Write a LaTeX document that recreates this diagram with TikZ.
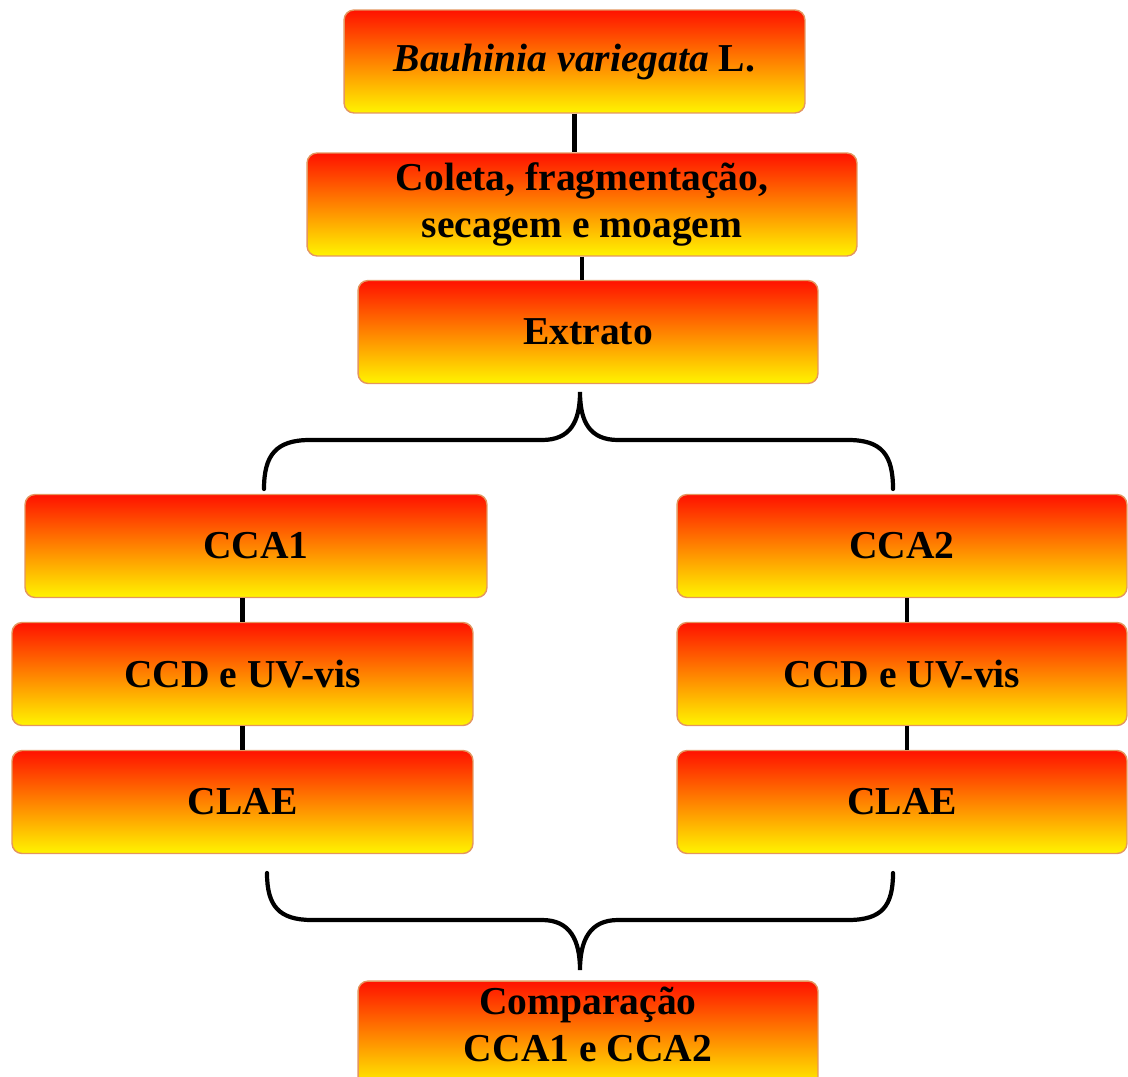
\documentclass[tikz,border=0pt]{standalone}
\usepackage{fontspec}
\setmainfont{Liberation Serif}
\definecolor{vermelho}{RGB}{255,18,0}
\definecolor{amarelo}{RGB}{255,244,0}
\definecolor{borda}{RGB}{228,150,95}
\tikzset{
  etapa/.style={draw=borda, line width=0.8pt, rounded corners=0.2cm,
    top color=vermelho, bottom color=amarelo, align=center,
    font=\bfseries\fontsize{22.5}{26.5}\selectfont, minimum height=2.06cm},
  liga/.style={line width=2.4pt},
  chave/.style={line width=2.4pt, line cap=round}
}
\begin{document}
\begin{tikzpicture}[x=0.02cm,y=-0.02cm]
    \useasboundingbox (0,0) rectangle (1128,1077);
    \clip (0,0) rectangle (1128,1077);

    % main line
    \node[etapa, minimum width=9.22cm] (planta) at (574.5,61.5) {\textit{Bauhinia variegata} L.};
    \node[etapa, minimum width=11cm] (coleta) at (582,204.5) {Coleta, fragmentação,\\secagem e moagem};
    \node[etapa, minimum width=9.2cm] (extrato) at (588,332) {Extrato};

    % left column
    \node[etapa, minimum width=9.24cm] (cca1) at (256,546) {CCA1};
    \node[etapa, minimum width=9.22cm] (ccd1) at (242.5,674) {CCD e UV-vis};
    \node[etapa, minimum width=9.22cm] (clae1) at (242.5,802) {CLAE};

    % right column
    \node[etapa, minimum width=9cm] (cca2) at (902,546) {CCA2};
    \node[etapa, minimum width=9cm] (ccd2) at (902,674) {CCD e UV-vis};
    \node[etapa, minimum width=9cm] (clae2) at (902,802) {CLAE};

    % result (cut off at the bottom edge)
    \node[etapa, minimum width=9.2cm] (comp) at (588,1034.5) {Comparação\\CCA1 e CCA2\rule[-0.42cm]{0pt}{0pt}};

    % lines
    \draw[liga] (planta.south) -- (planta.south |- coleta.north);
    \draw[liga] (coleta.south) -- (coleta.south |- extrato.north);
    \draw[liga] (ccd1.north |- cca1.south) -- (ccd1.north);
    \draw[liga] (ccd1.south) -- (clae1.north);
    \draw[liga] (cca2.south -| 907,0) -- (ccd2.north -| 907,0);
    \draw[liga] (ccd2.south -| 907,0) -- (clae2.north -| 907,0);

    % braces
    \coordinate (ponta1) at (580,392);
    \coordinate (esq1) at (264,489);
    \coordinate (dir1) at (893,489);
    \draw[chave] (esq1) .. controls (264,455) and (276,440) .. (310,440) -- (542,440)
        .. controls (570,440) and (580,422) .. (ponta1)
        .. controls (580,422) and (590,440) .. (618,440) -- (848,440)
        .. controls (882,440) and (893,455) .. (dir1);

    \coordinate (ponta2) at (580,970);
    \coordinate (esq2) at (267,873);
    \coordinate (dir2) at (893,873);
    \draw[chave] (esq2) .. controls (267,906) and (279,920) .. (312,920) -- (542,920)
        .. controls (570,920) and (580,940) .. (ponta2)
        .. controls (580,940) and (590,920) .. (618,920) -- (848,920)
        .. controls (882,920) and (893,906) .. (dir2);
\end{tikzpicture}
\end{document}
